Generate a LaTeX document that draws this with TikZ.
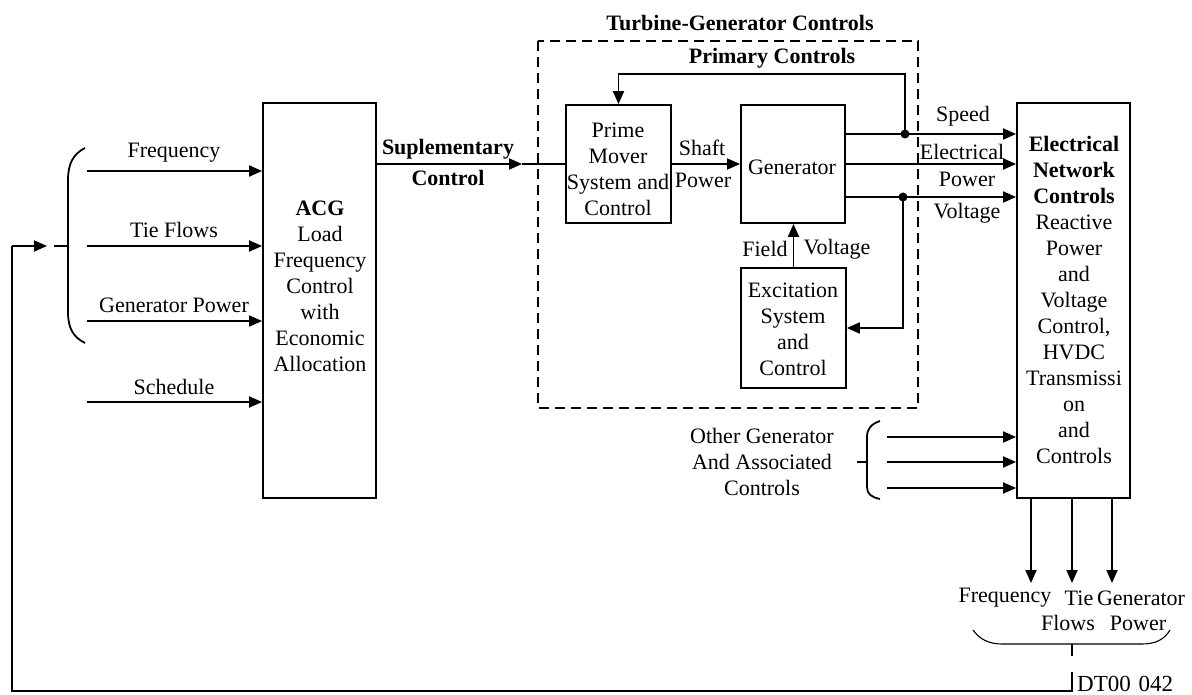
\documentclass[tikz,border=0pt]{standalone}
\usepackage{fontspec}
\setmainfont{Liberation Serif}
\usetikzlibrary{arrows.meta}
\begin{document}
\begin{tikzpicture}[x=1pt,y=-1pt,
  every node/.style={font=\fontsize{22}{26}\selectfont, inner sep=0pt, align=center},
  ln/.style={line width=1.8pt},
  thin line/.style={line width=1.1pt},
  arr/.style={ln, -{Triangle[length=13pt,width=11pt]}},
  box/.style={draw, ln, minimum width=#1},
  dot/.style={circle, fill, minimum size=9pt, inner sep=0pt}
]
\useasboundingbox (0,0) rectangle (1192,695);

% ---- blocks ----
\node[box=113pt, minimum height=395pt] (acg) at (319.5,300.5) {};
\node at (320,286) {\textbf{ACG}\\Load\\Frequency\\Control\\with\\Economic\\Allocation};

\node[box=113pt, minimum height=395pt] (enc) at (1073.5,300.5) {};
\node at (1074,300) {\textbf{Electrical}\\\textbf{Network}\\\textbf{Controls}\\Reactive\\Power\\and\\Voltage\\Control,\\HVDC\\Transmissi\\on\\and\\Controls};

\node[box=105pt, minimum height=118pt] (pm) at (618.5,164) {};
\node at (618,169) {Prime\\Mover\\System and\\Control};

\node[box=104pt, minimum height=118pt] (gen) at (793,164) {};
\node at (792,167) {Generator};

\node[box=105pt, minimum height=120pt] (exc) at (793.5,328) {};
\node at (793,329) {Excitation\\System\\and\\Control};

% turbine-generator group
\draw[ln, dash pattern=on 10pt off 6pt] (538,41) rectangle (918,408);
\node (tgc) at (740,23) {\textbf{Turbine-Generator Controls}};
\node (pc) at (772,58) {\textbf{Primary Controls}};

% ---- inputs to ACG ----
\coordinate (inF) at (87,171);
\coordinate (inT) at (87,246);
\coordinate (inG) at (87,321);
\coordinate (inS) at (87,402);
\foreach \c in {inF,inT,inG,inS} \draw[arr] (\c) -- (\c -| acg.west);
\node at (174,153) {Frequency};
\node at (174,230) {Tie Flows};
\node at (174,305) {Generator Power};
\node at (174,387) {Schedule};

% left brace
\draw[ln] (85,148) .. controls (73,154) and (68,164) .. (68,180) -- (68,312)
  .. controls (68,328) and (73,337) .. (85,343);
\draw[ln] (54,246) -- (68,246);

% ---- supplementary control ----
\coordinate (supT) at (522,164);
\draw[arr] (acg.east |- supT) -- (supT);
\draw[ln] (supT) -- (pm.west);
\node at (448,149) {\textbf{Suplementary}};
\node at (448,178) {\textbf{Control}};

% ---- shaft power ----
\draw[arr] (pm.east) -- (gen.west);
\node at (702,148) {Shaft};
\node at (703,180) {Power};

% ---- generator outputs ----
\coordinate (sp) at (905,134);
\coordinate (sptop) at (905,74);
\coordinate (vt) at (903,197);
\draw[arr] (gen.east |- sp) -- (enc.west |- sp);
\draw[arr] (gen.east) -- (enc.west |- gen.east);
\draw[arr] (gen.east |- vt) -- (enc.west |- vt);
\node[dot] at (sp) {};
\node[dot] at (vt) {};
\draw[arr] (sp) -- (sptop) -| (pm.north);
\draw[arr] (vt) |- (exc.east);
\node at (963,116) {Speed};
\node at (962,152) {Electrical};
\node at (967,179) {Power};
\node at (967,213) {Voltage};

% ---- field voltage ----
\draw[arr] (exc.north) -- (exc.north |- gen.south);
\node at (765,249) {Field};
\node at (837,249) {Voltage};

% ---- other generators ----
\node at (762,462) {Other Generator\\And Associated\\Controls};
\draw[ln] (880,421) .. controls (871,424) and (867,429) .. (867,437) -- (867,487)
  .. controls (867,494) and (871,497) .. (880,499);
\draw[ln] (857,462) -- (867,462);
\coordinate (og1) at (887,437);
\coordinate (og2) at (887,462);
\coordinate (og3) at (887,488);
\foreach \c in {og1,og2,og3} \draw[arr] (\c) -- (\c -| enc.west);

% ---- network outputs ----
\coordinate (oF) at (1031,583);
\coordinate (oT) at (1072,583);
\coordinate (oG) at (1112,583);
\foreach \c in {oF,oT,oG} \draw[arr] (enc.south -| \c) -- (\c);
\node at (1005,598) {Frequency};
\node at (1079,598) {Tie};
\node at (1141,598) {Generator};
\node at (1068,623) {Flows};
\node at (1138,623) {Power};

% bottom brace and feedback path
\draw[thin line] (973,630) .. controls (980,640) and (990,644) .. (1002,644) -- (1142,644)
  .. controls (1155,644) and (1164,640) .. (1170,630);
\draw[thin line] (1072,644) -- (1072,656);
\coordinate (fbR) at (1072,672);
\coordinate (fbC) at (12,691);
\coordinate (fbE) at (47,246);
\draw[ln] (fbR) |- (fbC) -- (fbC |- fbE);
\draw[arr] (fbC |- fbE) -- (fbE);
\node[anchor=west, font=\fontsize{23}{26}\selectfont] at (1077,684) {DT00\,\,042};
\end{tikzpicture}
\end{document}
